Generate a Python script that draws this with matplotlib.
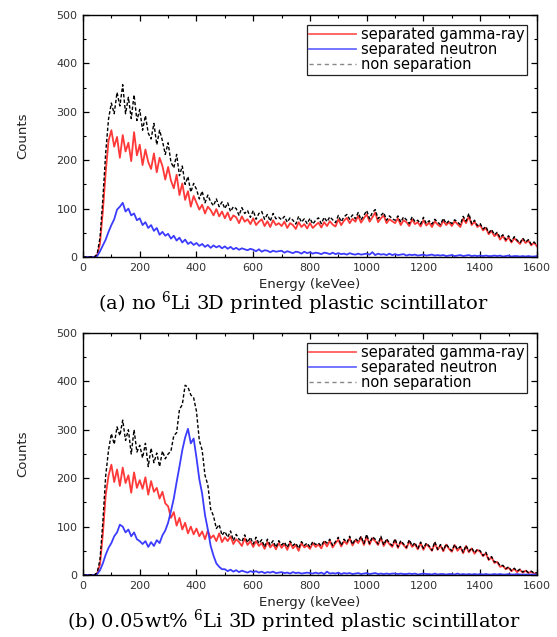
import numpy as np
import matplotlib
matplotlib.use("Agg")
from matplotlib import pyplot as plt
from matplotlib.ticker import MultipleLocator

# energy grid, keVee (10 keV steps, 0..1600)
energy = np.arange(0, 1601, 10)

# (a) no 6Li
gamma_a = [
    0, 0, 0, 0, 0, 4, 28, 95, 175, 240,
    262, 228, 248, 205, 252, 218, 236, 198, 258, 210,
    232, 190, 222, 196, 182, 214, 175, 205, 188, 160,
    186, 158, 142, 170, 128, 152, 118, 136, 104, 126,
    112, 98, 108, 90, 104, 97, 86, 99, 84, 94,
    80, 92, 76, 86, 82, 70, 84, 73, 78, 68,
    80, 66, 73, 78, 64, 74, 62, 76, 66, 70,
    64, 73, 60, 70, 66, 58, 72, 62, 68, 59,
    70, 60, 66, 71, 61, 72, 64, 74, 67, 63,
    78, 66, 75, 81, 70, 79, 73, 85, 71, 80,
    88, 73, 82, 92, 72, 80, 86, 70, 78, 74,
    70, 80, 66, 76, 72, 64, 78, 68, 72, 63,
    76, 65, 71, 62, 74, 67, 63, 75, 66, 72,
    64, 74, 68, 62, 79, 70, 84, 66, 73, 62,
    66, 55, 60, 47, 54, 43, 48, 36, 44, 33,
    41, 30, 39, 33, 27, 37, 29, 34, 24, 30,
    22,
]
neutron_a = [
    0, 0, 0, 0, 0, 2, 12, 24, 36, 52,
    66, 78, 98, 104, 112, 94, 100, 86, 90, 76,
    80, 66, 72, 60, 66, 54, 60, 46, 52, 44,
    48, 38, 44, 34, 40, 30, 36, 27, 31, 25,
    29, 23, 27, 21, 25, 19, 24, 20, 23, 18,
    22, 17, 21, 16, 19, 15, 18, 16, 14, 17,
    15, 12, 16, 11, 14, 13, 10, 13, 11, 12,
    13, 9, 12, 10, 8, 11, 10, 7, 11, 8,
    10, 7, 9, 8, 6, 9, 8, 6, 9, 6,
    8, 6, 7, 5, 8, 6, 5, 7, 5, 6,
    7, 5, 10, 4, 7, 5, 6, 4, 7, 4,
    6, 4, 5, 6, 3, 5, 4, 5, 3, 4,
    5, 3, 4, 5, 3, 4, 3, 4, 2, 3,
    4, 2, 3, 4, 2, 3, 4, 2, 3, 2,
    3, 2, 3, 2, 2, 3, 2, 3, 1, 2,
    3, 1, 2, 2, 1, 2, 1, 2, 1, 1,
    2,
]
total_a = [
    0, 0, 0, 0, 0, 6, 40, 120, 215, 285,
    318, 296, 340, 312, 356, 296, 330, 286, 335, 282,
    305, 262, 292, 256, 244, 276, 232, 262, 240, 212,
    236, 196, 184, 212, 168, 188, 150, 166, 134, 152,
    140, 120, 136, 112, 128, 114, 106, 120, 104, 114,
    100, 112, 94, 104, 100, 86, 102, 90, 96, 82,
    96, 78, 90, 94, 78, 88, 74, 90, 79, 82,
    77, 84, 72, 81, 76, 68, 84, 72, 79, 69,
    80, 68, 76, 81, 69, 82, 73, 83, 77, 71,
    86, 73, 83, 88, 78, 87, 79, 92, 77, 86,
    96, 79, 92, 98, 79, 86, 92, 76, 85, 79,
    76, 85, 72, 83, 77, 69, 83, 73, 76, 68,
    82, 69, 75, 68, 78, 72, 67, 80, 69, 75,
    69, 77, 72, 67, 84, 74, 90, 69, 76, 65,
    69, 58, 63, 50, 57, 46, 51, 40, 46, 36,
    44, 32, 42, 35, 29, 39, 31, 36, 26, 31,
    24,
]

# (b) 0.05wt% 6Li
gamma_b = [
    0, 0, 0, 0, 0, 3, 22, 85, 165, 205,
    228, 192, 218, 184, 222, 190, 206, 170, 212, 180,
    196, 178, 202, 166, 194, 172, 180, 158, 172, 148,
    142, 118, 130, 102, 118, 94, 108, 86, 100, 84,
    96, 80, 90, 74, 92, 76, 82, 70, 86, 68,
    78, 70, 80, 64, 74, 68, 60, 76, 62, 70,
    58, 70, 60, 66, 54, 68, 57, 64, 53, 66,
    56, 64, 52, 67, 55, 62, 50, 66, 57, 61,
    54, 66, 58, 63, 55, 69, 59, 71, 57, 66,
    73, 59, 70, 64, 76, 61, 72, 66, 78, 62,
    80, 63, 76, 70, 62, 77, 60, 72, 64, 58,
    72, 56, 68, 62, 55, 70, 58, 64, 53, 66,
    52, 64, 58, 50, 66, 52, 61, 49, 63, 54,
    48, 62, 50, 58, 45, 60, 47, 55, 44, 52,
    48, 39, 45, 31, 37, 25, 27, 17, 19, 12,
    15, 8, 13, 6, 11, 5, 9, 4, 7, 3,
    4,
]
neutron_b = [
    0, 0, 0, 0, 0, 2, 10, 24, 42, 56,
    66, 80, 88, 104, 100, 88, 94, 80, 88, 74,
    70, 64, 70, 58, 68, 60, 72, 66, 82, 92,
    108, 132, 158, 192, 224, 258, 284, 302, 272, 282,
    242, 198, 168, 124, 94, 60, 40, 24, 17, 12,
    12, 8, 11, 7, 10, 6, 9, 7, 5, 8,
    6, 8, 5, 7, 4, 6, 5, 7, 4, 5,
    6, 4, 5, 3, 6, 4, 5, 3, 4, 5,
    4, 3, 5, 3, 5, 2, 7, 3, 4, 3,
    5, 2, 4, 3, 4, 2, 3, 4, 2, 3,
    4, 2, 3, 4, 2, 3, 2, 3, 2, 3,
    3, 2, 3, 2, 2, 3, 2, 3, 1, 2,
    3, 2, 2, 1, 3, 1, 2, 2, 1, 2,
    2, 1, 3, 1, 2, 1, 2, 1, 2, 1,
    2, 1, 2, 1, 1, 2, 1, 2, 1, 1,
    2, 1, 1, 2, 1, 1, 1, 1, 1, 1,
    1,
]
total_b = [
    0, 0, 0, 0, 0, 5, 32, 110, 205, 258,
    292, 270, 306, 288, 320, 278, 300, 250, 300, 254,
    268, 242, 272, 224, 262, 232, 252, 224, 256, 240,
    250, 256, 288, 294, 342, 352, 392, 388, 372, 366,
    338, 278, 258, 206, 186, 136, 122, 96, 104, 82,
    90, 78, 91, 71, 84, 74, 69, 83, 67, 78,
    64, 78, 65, 73, 58, 74, 62, 71, 57, 71,
    62, 68, 57, 70, 61, 66, 55, 69, 61, 66,
    58, 69, 63, 66, 60, 71, 66, 74, 61, 69,
    78, 61, 74, 67, 80, 63, 75, 70, 80, 65,
    84, 65, 79, 74, 64, 80, 62, 75, 66, 61,
    75, 58, 71, 64, 57, 73, 60, 67, 54, 68,
    55, 66, 60, 51, 69, 53, 63, 51, 64, 56,
    50, 63, 53, 59, 47, 61, 49, 56, 46, 53,
    50, 40, 47, 32, 38, 27, 28, 19, 20, 13,
    17, 9, 14, 8, 12, 6, 10, 5, 8, 4,
    5,
]

captions = [
    r"(a) no $^{6}$Li 3D printed plastic scintillator",
    r"(b) 0.05wt% $^{6}$Li 3D printed plastic scintillator",
]

plt.rcParams["font.family"] = ["DejaVu Sans"]
plt.rcParams["mathtext.fontset"] = "dejavuserif"

fig = plt.figure(figsize=(5.57, 6.37), dpi=100)
# (axes bottom, caption baseline) in figure fractions
panels = [
    (0.5965, 0.5133, gamma_a, neutron_a, total_a),
    (0.0973, 0.0145, gamma_b, neutron_b, total_b),
]

for (bottom, cap_y, gamma, neutron, total), caption in zip(panels, captions):
    ax = fig.add_axes([0.149, bottom, 0.815, 0.380])
    ax.plot(energy, gamma, color="#ff3838", lw=1.3, label="separated gamma-ray")
    ax.plot(energy, neutron, color="#3c3cff", lw=1.3, label="separated neutron")
    ax.plot(energy, total, color="black", lw=1.0, ls=(0, (2.5, 1.5)),
            label="non separation")

    ax.set_xlim(0, 1600)
    ax.set_ylim(0, 500)
    ax.xaxis.set_major_locator(MultipleLocator(200))
    ax.xaxis.set_minor_locator(MultipleLocator(100))
    ax.yaxis.set_major_locator(MultipleLocator(100))
    ax.yaxis.set_minor_locator(MultipleLocator(50))
    ax.tick_params(which="both", direction="in", top=True, right=True,
                   labelsize=8, labelcolor="#333333", pad=4)
    ax.tick_params(which="major", length=4.5, width=0.9)
    ax.tick_params(which="minor", length=2.5, width=0.8)
    for s in ax.spines.values():
        s.set_linewidth(1.0)

    ax.set_xlabel("Energy (keVee)", fontsize=9.5, color="#222222")
    ax.xaxis.set_label_coords(0.5, -0.088)
    ax.set_ylabel("Counts", fontsize=9.5, color="#222222")
    ax.yaxis.set_label_coords(-0.118, 0.5)

    leg = ax.legend(loc="upper right", fontsize=10.5, frameon=True, fancybox=False,
                    edgecolor="#222222", handlelength=3.2, handletextpad=0.35,
                    borderpad=0.15, labelspacing=0.0, borderaxespad=0.7,
                    framealpha=1.0)
    leg.get_frame().set_linewidth(0.9)
    leg.get_lines()[0].set_color("#ff5a5a")
    leg.get_lines()[1].set_color("#6a6aff")
    leg.get_lines()[2].set_color("#888888")
    leg.get_lines()[2].set_linestyle((0, (3, 2.5)))

    fig.text(0.527, cap_y, caption, ha="center", va="baseline",
             fontsize=14, family="DejaVu Serif")

fig.savefig("out.png", dpi=100)
